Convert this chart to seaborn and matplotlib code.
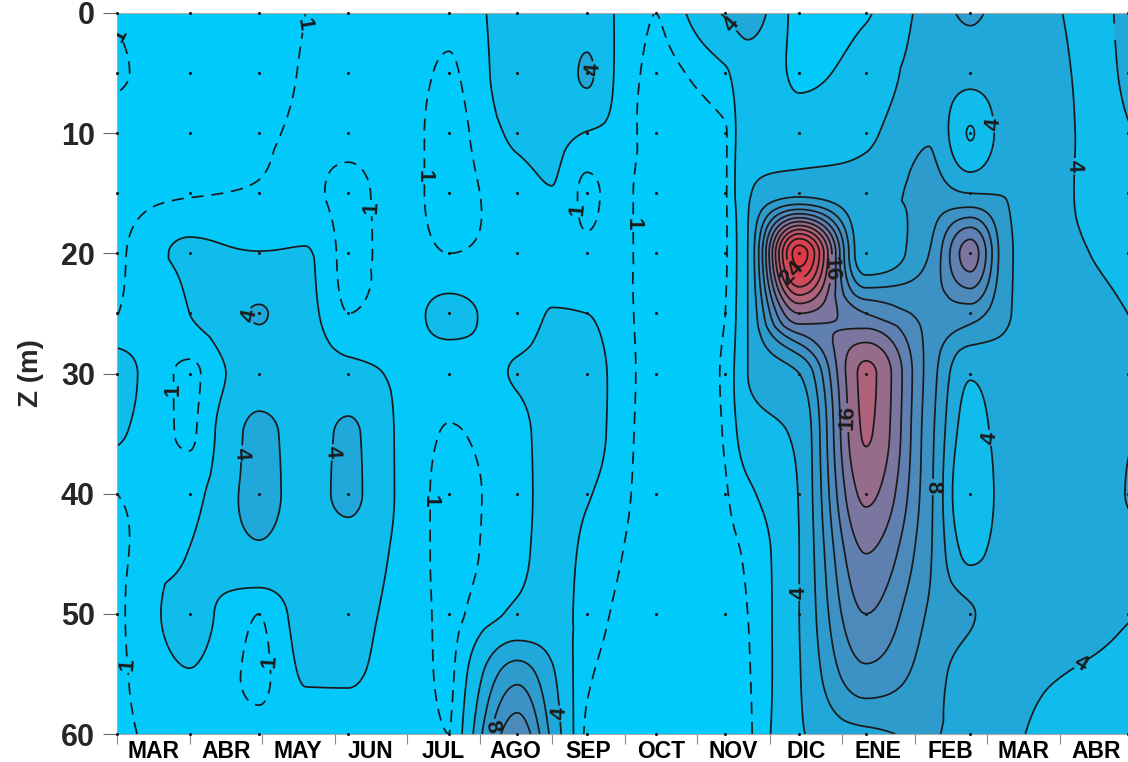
import numpy as np
import matplotlib
matplotlib.use("Agg")
import matplotlib.pyplot as plt
import seaborn as sns
from matplotlib.colors import LinearSegmentedColormap

# months on the time axis (0 = start of first MAR)
month_labels = ["MAR", "ABR", "MAY", "JUN", "JUL", "AGO", "SEP",
                "OCT", "NOV", "DIC", "ENE", "FEB", "MAR", "ABR"]

# sampling stations (month position) and sampled depths (m)
station_x = [0.0, 1.0, 1.96, 3.19, 4.58, 5.52, 6.48, 7.43, 8.39, 9.41, 10.33, 11.77, 13.94]
sample_depths = [0, 5, 10, 15, 20, 25, 30, 40, 50, 60]

grid_depth = [0, 5, 10, 15, 20, 25, 30, 35, 40, 45, 50, 55, 60]
grid_x = [0.0, 1.0, 1.96, 2.6, 3.19, 3.9, 4.58, 5.52, 6.0, 6.48, 6.9, 7.43,
          8.39, 8.7, 9.41, 10.33, 11.2, 11.77, 12.3, 12.9, 13.5, 13.94]
p_mar1 = [0.95, 1.1, 0.7, 0.7, 0.8, 0.98, 2.6, 2.2, 1.0, 0.8, 0.8, 0.8, 0.8]
p_abr1 = [0.6, 0.6, 0.65, 0.95, 2.2, 2.0, 0.85, 0.9, 1.5, 2.05, 2.4, 1.95, 1.4]
p_may1 = [0.8, 0.8, 0.9, 1.05, 2.05, 4.1, 3.0, 4.5, 4.6, 3.7, 1.0, 0.8, 1.3]
p_may2 = [1.0, 1.05, 1.1, 1.15, 2.1, 2.6, 3.0, 3.2, 3.3, 3.0, 2.5, 2.1, 1.6]
p_jun1 = [1.3, 1.3, 1.2, 0.8, 0.75, 1.0, 2.5, 4.3, 4.4, 3.0, 2.4, 2.1, 1.6]
p_jun2 = [1.3, 1.3, 1.3, 1.3, 1.3, 1.5, 1.8, 1.8, 1.8, 1.7, 1.6, 1.5, 1.4]
p_jul1 = [1.2, 0.9, 0.7, 0.7, 1.0, 2.3, 1.4, 0.95, 0.8, 0.8, 0.85, 0.9, 1.0]
p_ago1 = [2.6, 2.6, 2.2, 1.6, 1.3, 1.5, 2.1, 1.6, 1.5, 1.6, 2.3, 7.2, 11.5]
p_ago2 = [2.4, 2.4, 2.3, 1.95, 1.5, 2.05, 2.4, 2.5, 2.5, 2.6, 2.8, 4.3, 5.5]
p_sep1 = [2.8, 4.3, 1.95, 0.8, 1.2, 2.0, 2.4, 2.5, 2.1, 1.7, 1.4, 1.1, 0.9]
p_sep2 = [1.9, 1.8, 1.6, 1.3, 1.3, 1.5, 1.7, 1.6, 1.4, 1.1, 0.9, 0.8, 0.7]
p_oct1 = [1.0, 0.8, 0.6, 0.5, 0.5, 0.5, 0.5, 0.5, 0.5, 0.5, 0.5, 0.5, 0.5]
p_nov1 = [4.2, 1.8, 0.95, 0.95, 0.95, 1.0, 1.1, 1.05, 0.95, 0.85, 0.8, 0.75, 0.7]
p_nov2 = [5.0, 3.2, 3.2, 3.8, 4.0, 4.0, 4.0, 3.0, 1.7, 1.1, 1.0, 0.95, 0.9]
p_dic1 = [1.6, 1.8, 2.8, 5.5, 27.0, 16.0, 6.0, 4.4, 4.1, 4.0, 4.0, 3.9, 3.8]
p_ene1 = [1.9, 2.5, 3.6, 4.6, 4.3, 12.0, 18.5, 18.2, 16.5, 14.0, 12.0, 9.5, 5.5]
p_ene2 = [4.8, 5.0, 5.8, 6.8, 8.0, 9.5, 9.2, 8.8, 8.6, 8.3, 7.8, 7.0, 6.3]
p_feb1 = [6.3, 4.8, 1.9, 6.0, 15.0, 9.0, 4.2, 3.0, 2.0, 3.5, 6.2, 5.0, 4.6]
p_feb2 = [5.0, 5.0, 5.0, 5.9, 6.2, 6.1, 5.2, 5.0, 5.0, 5.0, 4.9, 4.6, 4.3]
p_mar2 = [4.2, 4.5, 4.8, 4.9, 5.0, 5.0, 5.0, 5.0, 5.0, 5.0, 4.7, 4.1, 3.5]
p_mar3 = [3.5, 3.5, 3.4, 3.4, 3.9, 4.4, 4.6, 4.8, 5.0, 4.8, 4.4, 3.8, 3.3]
p_abr2 = [4.6, 4.3, 3.9, 3.5, 3.6, 4.0, 4.5, 5.8, 6.1, 5.0, 4.1, 3.6, 3.2]

line_levels = [1, 2, 4, 6, 8, 10, 12, 14, 16, 18, 20, 22, 24, 26, 28]
label_levels = [1, 4, 8, 16, 24]


def pchip(xk, yk, xq):
    # monotone cubic interpolation along axis 0
    xk = np.asarray(xk, float)
    yk = np.asarray(yk, float)
    h = np.diff(xk)
    d = np.diff(yk, axis=0) / h[:, None]
    m = np.zeros_like(yk)
    w1 = (2 * h[1:] + h[:-1])[:, None]
    w2 = (h[1:] + 2 * h[:-1])[:, None]
    dl, dr = d[:-1], d[1:]
    with np.errstate(divide="ignore", invalid="ignore"):
        hm = (w1 + w2) / (w1 / dl + w2 / dr)
    m[1:-1] = np.where(dl * dr > 0, hm, 0.0)
    m[0] = d[0]
    m[-1] = d[-1]
    i = np.clip(np.searchsorted(xk, xq, side="right") - 1, 0, len(xk) - 2)
    hh = h[i][:, None]
    t = ((xq - xk[i]) / h[i])[:, None]
    t2, t3 = t * t, t * t * t
    return ((2 * t3 - 3 * t2 + 1) * yk[i] + (t3 - 2 * t2 + t) * hh * m[i]
            + (-2 * t3 + 3 * t2) * yk[i + 1] + (t3 - t2) * hh * m[i + 1])


cols = [p_mar1, p_abr1, p_may1, p_may2, p_jun1, p_jun2, p_jul1, p_ago1, p_ago2,
        p_sep1, p_sep2, p_oct1, p_nov1, p_nov2, p_dic1, p_ene1, p_ene2, p_feb1,
        p_feb2, p_mar2, p_mar3, p_abr2]
values = np.array(cols).T  # depth x columns

xf = np.linspace(0, 14, 700)
zf = np.linspace(0, 60, 500)
by_depth = pchip(grid_depth, values, zf)          # (nz, ncol)
field = pchip(grid_x, by_depth.T, xf).T           # (nz, nx)

# colour ramp: cyan -> steel blue -> red
ramp = [(0, (0, 204, 255)), (2, (4, 198, 248)), (3, (17, 187, 235)),
        (5, (32, 167, 217)), (7, (46, 155, 205)), (9, (60, 146, 196)),
        (11, (76, 138, 188)), (13, (96, 128, 176)), (15, (122, 118, 160)),
        (17, (150, 108, 140)), (19, (175, 98, 122)), (22, (200, 80, 98)),
        (26, (222, 60, 72)), (30, (236, 45, 55))]
cmap = LinearSegmentedColormap.from_list(
    "ramp", [(v / 30, tuple(c / 255 for c in rgb)) for v, rgb in ramp])
fill_levels = [-5, 1, 2, 4, 6, 8, 10, 12, 14, 16, 18, 20, 22, 24, 26, 28, 40]
mids = [0.5] + [(a + b) / 2 for a, b in zip(fill_levels[1:-1], fill_levels[2:-1])] + [29]
fill_colors = [cmap(min(v, 30) / 30) for v in mids]

sns.set_theme(style="white")
plt.rcParams["font.family"] = ["Liberation Sans", "DejaVu Sans"]
plt.rcParams["font.weight"] = "bold"
plt.rcParams["lines.dashed_pattern"] = [7, 4.5]

fig = plt.figure(figsize=(11.28, 7.62), dpi=100)
ax = fig.add_axes([117 / 1128, 28 / 762, 1015 / 1128, 721 / 762])

ax.contourf(xf, zf, field, levels=fill_levels, colors=fill_colors)
styles = ["--" if lv == 1 else "-" for lv in line_levels]
cs = ax.contour(xf, zf, field, levels=line_levels, colors="k",
                linewidths=1.25, linestyles=styles)
labels = ax.clabel(cs, levels=label_levels, fmt="%d", fontsize=16, inline=True,
                   inline_spacing=2)
for t in labels:
    t.set_fontweight("bold")
    if t.get_position()[0] > 13.6:
        t.set_visible(False)

# sample points
px = [x for x in station_x for _ in sample_depths]
pz = [z for _ in station_x for z in sample_depths]
sns.scatterplot(x=px, y=pz, ax=ax, color="k", s=5, linewidth=0, zorder=5,
                clip_on=False)

ax.set_xlim(0, 14)
ax.set_ylim(60, 0)
ax.set_yticks(range(0, 61, 10))
ax.set_yticklabels([str(v) for v in range(0, 61, 10)], fontsize=22, fontweight="bold")
ax.set_xticks(np.arange(14) + 0.5)
ax.set_xticklabels(month_labels, fontsize=16.5, fontweight="bold")
ax.set_xticks(np.arange(15), minor=True)
ax.tick_params(axis="x", which="major", length=0, pad=4, colors="black")
ax.tick_params(axis="x", which="minor", length=7, width=0.8, color="#888888",
               bottom=True)
ax.tick_params(axis="y", length=10, width=0.8, color="#666666", pad=6, left=True)
ax.set_ylabel("Z (m)", fontsize=20, fontweight="bold", labelpad=12)
for side in ["top", "bottom", "left", "right"]:
    ax.spines[side].set_color("#aaaaaa")
    ax.spines[side].set_linewidth(0.8)

fig.savefig("out.png", dpi=100, facecolor="white")
